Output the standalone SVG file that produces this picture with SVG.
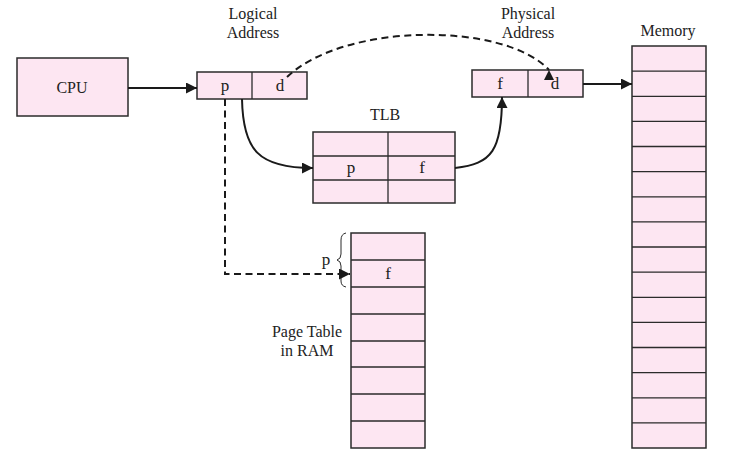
<svg xmlns="http://www.w3.org/2000/svg" width="735" height="466" viewBox="0 0 735 466">
<style>
.box{fill:#fde6f2;stroke:#2b2b2b;stroke-width:1.5}
.ln{stroke:#2b2b2b;stroke-width:1.3;fill:none}
text{font-family:"Liberation Serif","Times New Roman",Times,serif;font-size:16px;fill:#222;text-anchor:middle}
.v{font-size:17px}
.c{fill:none;stroke:#1a1a1a;stroke-width:2}
.d{fill:none;stroke:#1a1a1a;stroke-width:2;stroke-dasharray:7,4.5}
</style>
<defs>
<marker id="ah" viewBox="0 0 10 10" refX="10" refY="5" markerWidth="5.5" markerHeight="5.5" orient="auto" markerUnits="strokeWidth"><path d="M0,0 L10,5 L0,10 z" fill="#1a1a1a"/></marker>
<marker id="up" viewBox="0 0 10 10" refX="10" refY="5" markerWidth="5" markerHeight="5" orient="270" markerUnits="strokeWidth"><path d="M0,0 L10,5 L0,10 z" fill="#1a1a1a"/></marker>
</defs>
<g id="cpu"><rect class="box" x="17" y="58" width="111" height="58"/><text x="72" y="93">CPU</text></g>
<g id="logical">
<text x="253" y="19">Logical</text><text x="253" y="38">Address</text>
<rect class="box" x="197" y="72" width="110" height="27"/><line class="ln" x1="252" y1="72" x2="252" y2="99"/>
<text class="v" x="225" y="91">p</text><text class="v" x="280" y="91">d</text>
</g>
<g id="physical">
<text x="528" y="19">Physical</text><text x="528" y="38">Address</text>
<rect class="box" x="472" y="70" width="111" height="27"/><line class="ln" x1="528" y1="70" x2="528" y2="97"/>
<text class="v" x="500" y="89">f</text><text class="v" x="555" y="89">d</text>
</g>
<g id="tlb">
<text x="385" y="120">TLB</text>
<rect class="box" x="313" y="132" width="142" height="71"/>
<line class="ln" x1="313" y1="156" x2="455" y2="156"/><line class="ln" x1="313" y1="180" x2="455" y2="180"/>
<line class="ln" x1="388" y1="132" x2="388" y2="203"/>
<text class="v" x="351" y="173">p</text><text class="v" x="422" y="173">f</text>
</g>
<g id="pagetable">
<rect class="box" x="351" y="233" width="74" height="215"/>
<path class="ln" d="M351,260H425M351,287H425M351,314H425M351,341H425M351,367H425M351,394H425M351,421H425"/>
<text class="v" x="388" y="279">f</text>
<path d="M346,233 Q341,234 341,240 V254 Q341,259 337,260 Q341,261 341,266 V281 Q341,286 346,287" fill="none" stroke="#2b2b2b" stroke-width="1"/>
<text class="v" x="326" y="265">p</text>
<text x="307" y="337">Page Table</text><text x="307" y="356">in RAM</text>
</g>
<g id="memory">
<text x="668" y="36">Memory</text>
<rect class="box" x="632" y="46" width="74" height="402"/>
<path class="ln" d="M632,71.1H706M632,96.3H706M632,121.4H706M632,146.5H706M632,171.6H706M632,196.8H706M632,221.9H706M632,247H706M632,272.1H706M632,297.3H706M632,322.4H706M632,347.5H706M632,372.6H706M632,397.8H706M632,422.9H706"/>
</g>
<g id="connectors">
<line class="c" x1="128" y1="88" x2="197" y2="88" marker-end="url(#ah)"/>
<line class="c" x1="583" y1="84" x2="632" y2="84" marker-end="url(#ah)"/>
<path class="c" d="M242,99 C243,150 258,168 313,168" marker-end="url(#ah)"/>
<path class="c" d="M455,168 C492,164 502,150 502,97" marker-end="url(#ah)"/>
<path class="d" d="M225,99 V274 H350" marker-end="url(#ah)"/>
<path class="d" d="M287,77 C345,22 505,22 549,70" marker-end="url(#up)"/>
</g>
</svg>
